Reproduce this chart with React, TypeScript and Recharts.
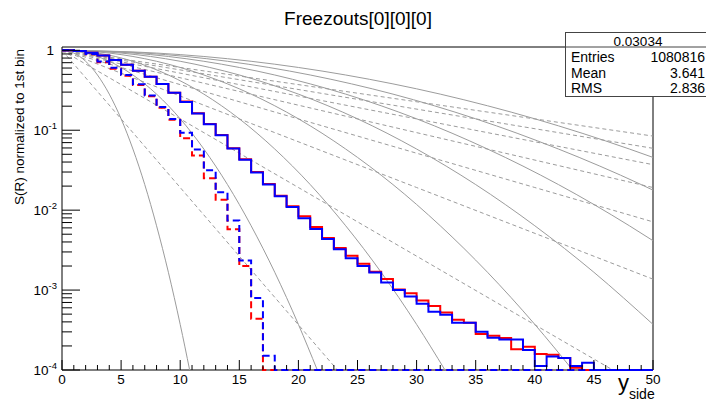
import React from 'react';
import { LineChart, Line, XAxis, YAxis, ReferenceArea } from 'recharts';

const FONT = '"Liberation Sans", Arial, Helvetica, sans-serif';
const FLOOR = 1e-4;
const Y_MAX = 1.1;
const N_BINS = 50;

// ---- histograms (50 bins of width 1, 0 = empty bin) ----
const blueSolid = [
  1, 0.977, 0.933, 0.861, 0.759, 0.661, 0.556, 0.468, 0.38, 0.295,
  0.226, 0.162, 0.119, 0.0863, 0.0589, 0.0427, 0.0295, 0.0209, 0.0149, 0.01096,
  0.00794, 0.00582, 0.00437, 0.00324, 0.00251, 0.002, 0.00166, 0.00124, 0.001, 0.000832,
  0.000676, 0.000537, 0.00049, 0.000389, 0.000389, 0.000302, 0.000254, 0.00024, 0.00024, 0.000178,
  0.000112, 0.000148, 0.000141, 0.000112, 0.000123, 0, 0, 0, 0, 0,
];
const redSolid = [
  1, 0.977, 0.933, 0.861, 0.759, 0.661, 0.556, 0.468, 0.38, 0.295,
  0.228, 0.163, 0.12, 0.087, 0.0595, 0.0432, 0.03, 0.0212, 0.0151, 0.0112,
  0.00839, 0.00617, 0.00447, 0.00337, 0.00269, 0.00214, 0.0017, 0.00138, 0.00102, 0.000912,
  0.000741, 0.000631, 0.000525, 0.000424, 0.000389, 0.000282, 0.000269, 0.000251, 0.000182, 0.000195,
  0.000158, 0.000155, 0.000141, 0.000107, 0, 0, 0, 0, 0, 0,
];
const blueDashed = [
  1, 0.977, 0.902, 0.724, 0.603, 0.49, 0.376, 0.272, 0.195, 0.138,
  0.0933, 0.0575, 0.0316, 0.0168, 0.00741, 0.00234, 0.000794, 0.000151,
];
const redDashed = [
  1, 0.977, 0.891, 0.708, 0.589, 0.479, 0.367, 0.266, 0.191, 0.135,
  0.0794, 0.0484, 0.0251, 0.0135, 0.00575, 0.002, 0.000437,
];

// ---- gray reference curves: [x, value] ----
const grayR1: [number, number][] = [[0, 1], [1, 0.924], [2, 0.729], [3, 0.491], [4, 0.283], [5, 0.139], [6, 0.0582], [7, 0.0209], [8, 0.00638], [9, 0.00167], [10, 0.000372], [10.8, 0.0001]];
const grayR2: [number, number][] = [[0, 1], [2, 0.924], [4, 0.729], [6, 0.491], [8, 0.283], [10, 0.139], [12, 0.0582], [14, 0.0209], [16, 0.00638], [18, 0.00167], [20, 0.000372], [21.6, 0.0001]];
const grayR3: [number, number][] = [[0, 1], [3, 0.924], [6, 0.729], [9, 0.491], [12, 0.283], [15, 0.139], [18, 0.0582], [21, 0.0209], [24, 0.00638], [27, 0.00167], [30, 0.000372], [32.4, 0.0001]];
const grayR4: [number, number][] = [[0, 1], [4, 0.924], [8, 0.729], [12, 0.491], [16, 0.283], [20, 0.139], [24, 0.0582], [28, 0.0209], [32, 0.00638], [36, 0.00167], [40, 0.000372], [43.2, 0.0001]];
const grayR5: [number, number][] = [[0, 1], [5, 0.924], [10, 0.729], [15, 0.491], [20, 0.283], [25, 0.139], [30, 0.0582], [35, 0.0209], [40, 0.00638], [45, 0.00167], [50, 0.000372]];
const grayR6: [number, number][] = [[0, 1], [6, 0.924], [12, 0.729], [18, 0.491], [24, 0.283], [30, 0.139], [36, 0.0582], [42, 0.0209], [48, 0.00638], [50, 0.00415]];
const grayR7: [number, number][] = [[0, 1], [7, 0.924], [14, 0.729], [21, 0.491], [28, 0.283], [35, 0.139], [42, 0.0582], [49, 0.0209], [50, 0.0178]];
const grayR8: [number, number][] = [[0, 1], [8, 0.924], [16, 0.729], [24, 0.491], [32, 0.283], [40, 0.139], [48, 0.0582], [50, 0.0457]];

const dashE1: [number, number][] = [[0, 1], [10, 0.0192], [20, 0.000368], [23.3, 0.0001]];
const dashE2: [number, number][] = [[0, 1], [20, 0.0192], [40, 0.000368], [46.6, 0.0001]];
const dashE3: [number, number][] = [[0, 1], [30, 0.0192], [50, 0.00137]];
const dashE4: [number, number][] = [[0, 1], [40, 0.0192], [50, 0.00714]];
const dashE5: [number, number][] = [[0, 1], [50, 0.0192]];
const dashE6: [number, number][] = [[0, 1], [50, 0.0371]];
const dashE7: [number, number][] = [[0, 1], [50, 0.0594]];
const dashE8: [number, number][] = [[0, 1], [50, 0.0845]];

// ---- ticks ----
const xTicks = Array.from({ length: 51 }, (_, i) => i);
const yMajorTicks = [0.0001, 0.001, 0.01, 0.1, 1];
const yMajorLabels = [
  { base: '10', exp: '-4' },
  { base: '10', exp: '-3' },
  { base: '10', exp: '-2' },
  { base: '10', exp: '-1' },
  { base: '1', exp: '' },
];
const yMinorFactors = [2, 3, 4, 5, 6, 7, 8, 9];
const yTicks = [
  ...yMajorTicks,
  ...yMajorTicks.slice(0, 4).flatMap((m) => yMinorFactors.map((f) => m * f)),
].sort((a, b) => a - b);

// ---- stats box ----
const statTitle = '0.03034';
const statRows = [
  ['Entries', '1080816'],
  ['Mean', '3.641'],
  ['RMS', '2.836'],
];

const histTable = (bins: number[]) => {
  const full = [...bins, ...Array(N_BINS - bins.length).fill(0)];
  const rows = full.map((v, i) => ({ x: i, y: v > 0 ? v : FLOOR }));
  rows.push({ x: N_BINS, y: rows[rows.length - 1].y });
  return rows;
};
const curveTable = (pts: [number, number][]) => pts.map(([x, y]) => ({ x, y }));

const grayColor = '#9c9c9c';
const solidCurves = [grayR1, grayR2, grayR3, grayR4, grayR5, grayR6, grayR7, grayR8];
const dashedCurves = [dashE1, dashE2, dashE3, dashE4, dashE5, dashE6, dashE7, dashE8];

const XTick = (props: any) => {
  const { x, y, payload } = props;
  const v = payload.value as number;
  const major = v % 5 === 0;
  return (
    <g>
      <line x1={x} x2={x} y1={y} y2={y - (major ? 10 : 5)} stroke="#000" strokeWidth={1} />
      {major && (
        <text x={x} y={y + 13.5} textAnchor="middle" fontSize={13.5} fontFamily={FONT} fill="#000">
          {v}
        </text>
      )}
    </g>
  );
};

const YTick = (props: any) => {
  const { x, y, payload } = props;
  const v = payload.value as number;
  const idx = yMajorTicks.findIndex((m) => Math.abs(m - v) / m < 1e-6);
  const major = idx >= 0;
  const lab = major ? yMajorLabels[idx] : null;
  return (
    <g>
      <line x1={x} x2={x + (major ? 18 : 10)} y1={y} y2={y} stroke="#000" strokeWidth={1} />
      {lab && (
        <text
          x={lab.exp ? x - 5 : x - 8}
          y={y + 4.8}
          textAnchor="end"
          fontSize={13.5}
          fontFamily={FONT}
          fill="#000"
        >
          {lab.base}
          {lab.exp && (
            <tspan fontSize={9.5} dy={-6}>
              {lab.exp}
            </tspan>
          )}
        </text>
      )}
    </g>
  );
};

export default function App() {
  return (
    <div
      style={{
        position: 'absolute',
        left: 0,
        top: 0,
        width: 706,
        height: 401,
        overflow: 'hidden',
        background: '#fff',
      }}
    >
      <LineChart width={706} height={401} margin={{ top: 47, right: 53, bottom: 0, left: 0 }}>
        <ReferenceArea x1={0} x2={50} y1={FLOOR} y2={Y_MAX} fill="none" stroke="#000" strokeWidth={1} />
        <XAxis
          type="number"
          dataKey="x"
          domain={[0, 50]}
          ticks={xTicks}
          interval={0}
          height={31}
          tickSize={0}
          tickMargin={0}
          axisLine={false}
          tickLine={false}
          tick={<XTick />}
        />
        <YAxis
          type="number"
          scale="log"
          domain={[FLOOR, Y_MAX]}
          ticks={yTicks}
          interval={0}
          width={62}
          tickSize={0}
          tickMargin={0}
          axisLine={false}
          tickLine={false}
          tick={<YTick />}
        />
        {solidCurves.map((c, i) => (
          <Line
            key={'s' + i}
            data={curveTable(c)}
            dataKey="y"
            type="monotone"
            stroke={grayColor}
            strokeWidth={1}
            dot={false}
            activeDot={false}
            isAnimationActive={false}
          />
        ))}
        {dashedCurves.map((c, i) => (
          <Line
            key={'d' + i}
            data={curveTable(c)}
            dataKey="y"
            type="linear"
            stroke={grayColor}
            strokeWidth={1}
            strokeDasharray="4 3"
            dot={false}
            activeDot={false}
            isAnimationActive={false}
          />
        ))}
        <Line data={histTable(redSolid)} dataKey="y" type="stepAfter" stroke="#ff0000" strokeWidth={2} dot={false} activeDot={false} isAnimationActive={false} />
        <Line data={histTable(redDashed)} dataKey="y" type="stepAfter" stroke="#ff0000" strokeWidth={2} strokeDasharray="7 4" dot={false} activeDot={false} isAnimationActive={false} />
        <Line data={histTable(blueSolid)} dataKey="y" type="stepAfter" stroke="#0000ff" strokeWidth={2} dot={false} activeDot={false} isAnimationActive={false} />
        <Line data={histTable(blueDashed)} dataKey="y" type="stepAfter" stroke="#0000ff" strokeWidth={2} strokeDasharray="7 4" dot={false} activeDot={false} isAnimationActive={false} />
      </LineChart>
      <svg
        width={706}
        height={401}
        style={{ position: 'absolute', left: 0, top: 0, pointerEvents: 'none' }}
        fontFamily={FONT}
      >
        <text x={358} y={25} textAnchor="middle" fontSize={19} fill="#000">
          Freezouts[0][0][0]
        </text>
        <text transform="rotate(-90)" x={-49} y={24} textAnchor="end" fontSize={13.5} fill="#000">
          S(R) normalized to 1st bin
        </text>
        <text x={618} y={390} fontSize={22} fill="#000">
          y
          <tspan fontSize={14} dy={9}>
            side
          </tspan>
        </text>
        <rect x={565.5} y={32.5} width={150} height={64} fill="#fff" stroke="#444" strokeWidth={1} />
        <line x1={565} x2={706} y1={47} y2={47} stroke="#444" strokeWidth={1} />
        <text x={638} y={45.5} textAnchor="middle" fontSize={13.5} fill="#000">
          {statTitle}
        </text>
        {statRows.map((r, i) => (
          <g key={r[0]}>
            <text x={571} y={62.3 + i * 15.5} fontSize={14} fill="#000">
              {r[0]}
            </text>
            <text x={705} y={62.3 + i * 15.5} textAnchor="end" fontSize={14} fill="#000">
              {r[1]}
            </text>
          </g>
        ))}
      </svg>
    </div>
  );
}
